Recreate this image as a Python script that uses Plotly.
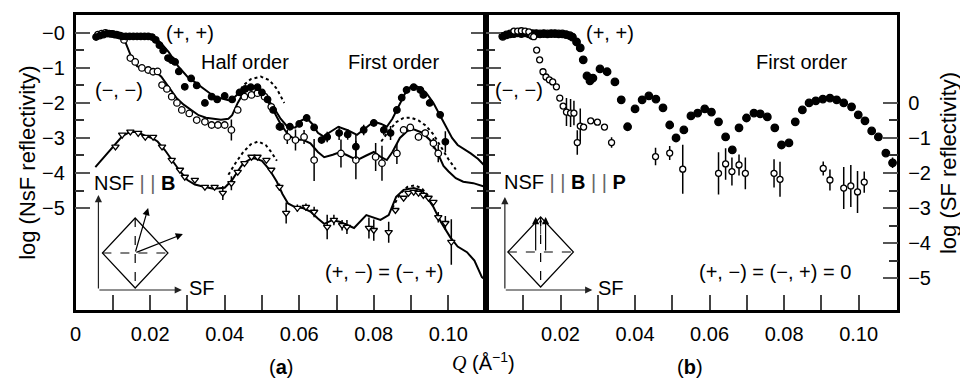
import plotly.graph_objects as go

W, H = 960, 378
FONT = "Liberation Sans, Arial, sans-serif"

# ---------------- data : panel (a) ----------------
pp_q = [0.0055, 0.0065, 0.0075, 0.0085, 0.0095, 0.0105, 0.0115, 0.0125, 0.0135, 0.0145, 0.0155, 0.0165,
        0.0175, 0.0185, 0.0195, 0.0205, 0.0215, 0.0225, 0.0235, 0.0248, 0.0258, 0.0267, 0.0277, 0.0293,
        0.031, 0.0325, 0.0347, 0.0365, 0.038, 0.040, 0.042, 0.044, 0.0455, 0.047, 0.0488, 0.050, 0.0515,
        0.053, 0.055, 0.0575, 0.060, 0.062, 0.064, 0.066, 0.0675, 0.0707, 0.073, 0.0752, 0.0773, 0.080,
        0.0827, 0.0845, 0.0862, 0.0875, 0.0888, 0.0907, 0.0925, 0.0933, 0.095, 0.0978, 0.0992]
pp_r = [-0.12, -0.08, -0.05, -0.02, -0.03, -0.05, -0.07, -0.1, -0.1, -0.1, -0.1, -0.1,
        -0.1, -0.1, -0.1, -0.12, -0.2, -0.35, -0.5, -0.72, -0.78, -0.83, -1.1, -1.54,
        -1.3, -1.5, -2.0, -1.82, -1.9, -1.8, -1.9, -1.7, -1.6, -1.55, -1.55, -1.7, -1.9,
        -2.2, -2.68, -2.68, -2.6, -2.43, -2.7, -3.06, -2.97, -2.86, -2.9, -3.25, -2.77, -2.57,
        -2.77, -2.86, -2.2, -1.85, -1.63, -1.55, -1.63, -1.77, -2.0, -2.34, -3.11]
pp_e = [0] * 44 + [0.15, 0.2, 0.15, 0.35, 0.15, 0.1, 0.15, 0.2, 0.1, 0, 0, 0, 0, 0, 0, 0.1, 0.3]

mm_q = [0.006, 0.007, 0.008, 0.009, 0.010, 0.011, 0.012, 0.013, 0.0147, 0.016, 0.0178, 0.0195, 0.0208,
        0.022, 0.0232, 0.0245, 0.0258, 0.0272, 0.0285, 0.0305, 0.0325, 0.0347, 0.0365, 0.0382, 0.040,
        0.0418, 0.0435, 0.0453, 0.0472, 0.0488, 0.0507, 0.0525, 0.0547, 0.0568, 0.059, 0.0613, 0.064,
        0.0712, 0.0752, 0.0805, 0.0822, 0.0862, 0.088, 0.0898, 0.092, 0.0938, 0.096, 0.0973]
mm_r = [-0.05, -0.02, 0.0, -0.02, -0.03, -0.05, -0.08, -0.2, -0.72, -0.83, -1.0, -1.06, -1.11,
        -1.1, -1.49, -1.6, -1.82, -2.0, -2.2, -2.3, -2.49, -2.54, -2.63, -2.63, -2.63,
        -2.77, -2.2, -1.82, -1.77, -1.72, -1.82, -2.11, -2.68, -2.97, -3.06, -2.97, -3.63,
        -3.44, -3.63, -3.54, -3.72, -3.44, -2.77, -2.7, -2.97, -2.86, -3.15, -3.44]
mm_e = [0] * 25 + [0.3, 0, 0, 0, 0, 0, 0, 0.1, 0.2, 0.3, 0.2, 0.6,
                   0.4, 0.55, 0.4, 0.5, 0.3, 0, 0, 0.1, 0.1, 0.15, 0.25]

tri_q = [0.0107, 0.0125, 0.0147, 0.0168, 0.0187, 0.0208, 0.0232, 0.0258, 0.028, 0.0293, 0.032,
         0.0347, 0.0373, 0.0395, 0.0418, 0.0435, 0.0453, 0.0472, 0.0488, 0.0512, 0.0525, 0.0547,
         0.0565, 0.0595, 0.0618, 0.064, 0.0675, 0.0693, 0.0715, 0.0728, 0.0787, 0.080, 0.084,
         0.0858, 0.088, 0.0893, 0.0907, 0.092, 0.0933, 0.0947, 0.096, 0.0973, 0.0992, 0.1008]
tri_r = [-3.25, -2.91, -2.82, -2.86, -2.97, -2.97, -3.25, -3.63, -3.91, -4.11, -4.2,
         -4.4, -4.4, -4.57, -4.29, -3.97, -3.72, -3.54, -3.54, -3.63, -3.91, -4.4,
         -5.14, -5.0, -4.97, -5.11, -5.54, -5.34, -5.49, -5.54, -5.57, -5.63, -5.69,
         -5.06, -4.71, -4.57, -4.54, -4.57, -4.63, -4.71, -4.83, -5.26, -5.43, -5.97]
tri_e = [0] * 13 + [0.2, 0.2, 0, 0, 0, 0, 0, 0, 0.1,
                    0.3, 0.1, 0.1, 0.15, 0.35, 0.15, 0.15, 0.2, 0.3, 0.3, 0.3,
                    0, 0, 0, 0, 0, 0, 0, 0, 0.15, 0.2, 0.65]

fitpp_q = [0.005, 0.007, 0.009, 0.012, 0.015, 0.018, 0.020, 0.0215, 0.023, 0.025, 0.0275, 0.030, 0.0325,
           0.035, 0.037, 0.039, 0.041, 0.042, 0.0435, 0.045, 0.0465, 0.048, 0.0495, 0.051, 0.053, 0.055,
           0.057, 0.059, 0.0605, 0.062, 0.0635, 0.065, 0.0667, 0.068, 0.0705, 0.073, 0.0755, 0.078, 0.080,
           0.082, 0.0835, 0.085, 0.087, 0.089, 0.0907, 0.092, 0.094, 0.096, 0.098, 0.0995, 0.101, 0.1025,
           0.104, 0.106, 0.108, 0.110]
fitpp_r = [-0.1, -0.02, 0.0, -0.05, -0.08, -0.08, -0.1, -0.15, -0.3, -0.55, -0.95, -1.25, -1.45,
           -1.65, -1.8, -1.87, -1.92, -1.9, -1.75, -1.6, -1.52, -1.52, -1.6, -1.8, -2.1, -2.45,
           -2.7, -2.7, -2.5, -2.43, -2.6, -2.85, -2.97, -2.85, -2.68, -2.78, -2.91, -2.7, -2.53,
           -2.6, -2.68, -2.45, -2.0, -1.6, -1.49, -1.55, -1.7, -2.0, -2.4, -2.7, -3.0, -3.2,
           -3.3, -3.44, -3.6, -3.82]

fitmm_q = [0.005, 0.007, 0.009, 0.011, 0.0125, 0.0135, 0.015, 0.0165, 0.018, 0.020, 0.0215, 0.023, 0.025,
           0.027, 0.029, 0.031, 0.033, 0.035, 0.037, 0.039, 0.041, 0.042, 0.0435, 0.045, 0.0465, 0.048,
           0.0495, 0.051, 0.053, 0.055, 0.057, 0.059, 0.061, 0.063, 0.065, 0.0667, 0.069, 0.071, 0.073,
           0.0755, 0.078, 0.080, 0.082, 0.0835, 0.085, 0.087, 0.089, 0.0907, 0.093, 0.095, 0.097, 0.0987,
           0.100, 0.102, 0.104, 0.1067, 0.110]
fitmm_r = [-0.1, -0.02, 0.0, -0.03, -0.1, -0.3, -0.7, -0.95, -1.02, -1.05, -1.1, -1.25, -1.55,
           -1.85, -2.05, -2.2, -2.35, -2.42, -2.45, -2.48, -2.45, -2.35, -2.0, -1.72, -1.58, -1.55,
           -1.65, -1.85, -2.2, -2.6, -2.9, -3.05, -3.05, -3.15, -3.4, -3.55, -3.48, -3.4, -3.5,
           -3.63, -3.5, -3.4, -3.55, -3.63, -3.4, -3.0, -2.8, -2.75, -2.85, -3.05, -3.4, -3.8,
           -3.95, -4.15, -4.25, -4.29, -4.4]

fittri_q = [0.0053, 0.008, 0.0107, 0.0125, 0.0145, 0.0165, 0.0185, 0.0205, 0.022, 0.024, 0.026, 0.028,
            0.030, 0.032, 0.0347, 0.037, 0.040, 0.042, 0.0435, 0.045, 0.047, 0.048, 0.050, 0.052, 0.054,
            0.0555, 0.057, 0.059, 0.061, 0.063, 0.065, 0.0667, 0.069, 0.071, 0.0747, 0.078, 0.0818, 0.084,
            0.086, 0.088, 0.0907, 0.093, 0.096, 0.098, 0.1005, 0.1025, 0.105, 0.107, 0.109, 0.110]
fittri_r = [-3.83, -3.5, -3.2, -2.95, -2.83, -2.83, -2.93, -3.0, -3.1, -3.35, -3.65, -3.95,
            -4.2, -4.33, -4.4, -4.45, -4.42, -4.2, -3.95, -3.72, -3.6, -3.58, -3.65, -3.9, -4.25,
            -4.6, -4.87, -4.98, -5.0, -5.1, -5.3, -5.45, -5.34, -5.4, -5.57, -5.2, -5.34, -5.2,
            -4.68, -4.48, -4.43, -4.5, -4.97, -5.4, -5.83, -6.1, -6.26, -6.5, -6.97, -7.05]

dot1_q = [0.0435, 0.045, 0.047, 0.0497, 0.052, 0.054, 0.056]
dot1_r = [-1.75, -1.5, -1.32, -1.25, -1.35, -1.6, -2.0]
dot2_q = [0.082, 0.084, 0.086, 0.088, 0.090, 0.092, 0.094, 0.096, 0.098, 0.100, 0.102]
dot2_r = [-3.1, -2.8, -2.55, -2.43, -2.42, -2.5, -2.65, -2.9, -3.25, -3.6, -3.9]
dot3_q = [0.041, 0.043, 0.045, 0.047, 0.049, 0.051, 0.0525, 0.054]
dot3_r = [-4.05, -3.7, -3.4, -3.18, -3.1, -3.2, -3.4, -3.65]
dot4_q = [0.085, 0.087, 0.089, 0.091, 0.093, 0.095]
dot4_r = [-5.0, -4.6, -4.4, -4.35, -4.45, -4.7]

# ---------------- data : panel (b) (values on the left, NSF scale) ----------------
bpp_q = [0.0045, 0.0055, 0.0065, 0.0075, 0.0085, 0.0095, 0.0105, 0.0115, 0.0125, 0.0135, 0.0145, 0.0155,
         0.0165, 0.0175, 0.0185, 0.0195, 0.0205, 0.0215, 0.0225, 0.0232, 0.0243, 0.0253, 0.0261, 0.0271,
         0.0279, 0.0287, 0.0306, 0.0325, 0.0346, 0.0363, 0.038, 0.040, 0.0419, 0.0437, 0.0456, 0.0475,
         0.0493, 0.051, 0.0531, 0.055, 0.0568, 0.0587, 0.0605, 0.0624, 0.0643, 0.0661, 0.0679, 0.0699,
         0.0719, 0.0736, 0.0755, 0.0775, 0.0793, 0.0813, 0.083, 0.0849, 0.0867, 0.0885, 0.0904, 0.0923,
         0.0941, 0.096, 0.0981, 0.0999, 0.1017, 0.1035, 0.1053, 0.1073, 0.1091]
bpp_r = [-0.1, -0.06, -0.03, -0.02, 0.0, -0.02, 0.0, -0.03, -0.02, -0.02, -0.03, -0.02,
         -0.03, -0.02, -0.02, -0.03, -0.03, -0.05, -0.08, -0.12, -0.26, -0.43, -0.77, -1.23,
         -1.37, -1.29, -1.03, -1.11, -1.4, -1.91, -2.68, -2.17, -1.91, -1.8, -1.89, -2.14,
         -2.63, -3.0, -2.77, -2.37, -2.29, -2.17, -2.26, -2.54, -2.97, -3.34, -2.71, -2.43,
         -2.29, -2.31, -2.4, -2.71, -3.2, -3.14, -2.54, -2.2, -2.0, -1.94, -1.89, -1.86,
         -1.91, -2.0, -2.11, -2.34, -2.51, -2.8, -2.97, -3.43, -3.71]
bpp_e = [0] * 68 + [0.15]

bmm_q = [0.0075, 0.0085, 0.0095, 0.0105, 0.0115, 0.0123, 0.0128, 0.0136, 0.0144, 0.0153, 0.0161, 0.017,
         0.0179, 0.0189, 0.0198, 0.0207, 0.0216, 0.0227, 0.0236, 0.0245, 0.0253, 0.0262, 0.0281, 0.0299,
         0.0318, 0.0337, 0.0455, 0.0493, 0.0528, 0.0624, 0.0643, 0.066, 0.0679, 0.0696, 0.0773, 0.0789,
         0.0905, 0.0923, 0.096, 0.0979, 0.0997, 0.1015]
bmm_r = [0.05, 0.05, 0.06, 0.05, 0.03, -0.09, -0.11, -0.49, -0.77, -1.11, -1.26, -1.34,
         -1.4, -1.54, -1.86, -2.09, -2.26, -2.29, -2.29, -3.13, -2.66, -2.69, -2.51, -2.55,
         -2.69, -3.13, -3.53, -3.43, -3.89, -4.01, -3.74, -3.96, -3.77, -4.01, -4.01, -4.18,
         -3.87, -4.2, -4.43, -4.37, -4.54, -4.26]
bmm_e = [0] * 16 + [0.4, 0.4, 0.35, 0.35, 0.5, 0, 0, 0, 0, 0.15, 0.25, 0.2, 0.7, 0.6,
                    0.45, 0.4, 0.3, 0.45, 0.4, 0.5, 0.2, 0.3, 0.6, 0.6, 0.6, 0.3]

# right-hand (SF) scale is the left-hand scale shifted by this many decades
SF_OFFSET = 2.0

# ---------------- axes ticks ----------------
nsf_tickvals = [-5, -4, -3, -2, -1, 0]
nsf_ticktext = ["\u22125", "\u22124", "\u22123", "\u22122", "\u22121", "\u22120"]
half_ticks = [-4.5, -3.5, -2.5, -1.5, -0.5]
sf_ticktext = ["\u22125", "\u22124", "\u22123", "\u22122", "\u22121", "0"]
qa_tickvals = [0, 0.01, 0.02, 0.03, 0.04, 0.05, 0.06, 0.07, 0.08, 0.09, 0.10]
qa_ticktext = ["0", "", "0.02", "", "0.04", "", "0.06", "", "0.08", "", "0.10"]
qb_tickvals = qa_tickvals[1:]
qb_ticktext = qa_ticktext[1:]

# ---------------- geometry (pixels) ----------------
LA0, LA1, RB1 = 70, 483, 897
TOP, BOT = 15, 310
YMIN, YMAX = -7.91, 0.51


def px(x):
    return x / W


def py(y):
    return 1 - y / H


fig = go.Figure()


def line(q, r, xa, ya, dash="solid", width=2):
    fig.add_trace(go.Scatter(x=q, y=r, xaxis=xa, yaxis=ya, mode="lines", hoverinfo="skip",
                             line=dict(color="black", width=width, dash=dash)))


def pts(q, r, e, xa, ya, symbol, size, fill):
    fig.add_trace(go.Scatter(
        x=q, y=r, xaxis=xa, yaxis=ya, mode="markers",
        marker=dict(symbol=symbol, size=size, color=fill, line=dict(color="black", width=1.3)),
        error_y=dict(type="data", array=e, visible=True, thickness=1.5, width=0, color="black")))


# panel (a)
line(fitpp_q, fitpp_r, "x", "y")
line(fitmm_q, fitmm_r, "x", "y")
line(fittri_q, fittri_r, "x", "y")
for dq, dr in [(dot1_q, dot1_r), (dot2_q, dot2_r), (dot3_q, dot3_r), (dot4_q, dot4_r)]:
    line(dq, dr, "x", "y", dash="dot", width=2)
pts(tri_q, tri_r, tri_e, "x", "y", "triangle-down", 6.5, "white")
pts(mm_q, mm_r, mm_e, "x", "y", "circle", 6.5, "white")
pts(pp_q, pp_r, pp_e, "x", "y", "circle", 6.5, "black")

# panel (b): open circles read on the right-hand (SF) axis, filled on the left-hand one
pts(bmm_q, [v + SF_OFFSET for v in bmm_r], bmm_e, "x2", "y3", "circle", 6, "white")
pts(bpp_q, bpp_r, bpp_e, "x2", "y2", "circle", 7.5, "black")

tickfont = dict(family=FONT, size=20, color="black")
common_y = dict(showgrid=False, zeroline=False, showline=True, linecolor="black", linewidth=2.5,
                ticks="inside", ticklen=15, tickwidth=1.5, tickcolor="#555",
                minor=dict(tickvals=half_ticks, ticks="inside", ticklen=9, tickwidth=1.5, tickcolor="#333"),
                tickfont=tickfont, ticklabelstandoff=4)
common_x = dict(showgrid=False, zeroline=False, showline=True, linecolor="black", linewidth=2.5,
                mirror=True, ticks="inside", ticklen=15, tickwidth=1.5, tickcolor="#444",
                tickfont=tickfont, ticklabelstandoff=4)

fig.update_layout(
    width=W, height=H, margin=dict(l=0, r=0, t=0, b=0), autosize=False,
    paper_bgcolor="white", plot_bgcolor="white", showlegend=False,
    font=dict(family=FONT, size=20, color="black"),
    xaxis=dict(common_x, domain=[px(LA0), px(LA1)], range=[0, 0.1101], anchor="y",
               tickvals=qa_tickvals, ticktext=qa_ticktext),
    yaxis=dict(common_y, domain=[py(BOT), py(TOP)], range=[YMIN, YMAX], anchor="x",
               tickvals=nsf_tickvals, ticktext=nsf_ticktext, mirror="ticks"),
    xaxis2=dict(common_x, domain=[px(LA1), px(RB1)], range=[0, 0.1104], anchor="y2",
                tickvals=qb_tickvals, ticktext=qb_ticktext),
    yaxis2=dict(common_y, domain=[py(BOT), py(TOP)], range=[YMIN, YMAX], anchor="x2",
                tickvals=nsf_tickvals, showticklabels=False, mirror=False),
    yaxis3=dict(common_y, overlaying="y2", side="right", anchor="x2",
                range=[YMIN + SF_OFFSET, YMAX + SF_OFFSET],
                tickvals=nsf_tickvals, ticktext=sf_ticktext),
)

ann = []


def text(t, x, y, size=20, xanchor="center", angle=0):
    ann.append(dict(text=t, x=px(x), y=py(y), xref="paper", yref="paper", showarrow=False,
                    xanchor=xanchor, yanchor="middle", textangle=angle,
                    font=dict(family=FONT, size=size, color="black")))


def arrow(x0, y0, x1, y1, color="#222", width=1.2, head=2, hsize=1.2):
    ann.append(dict(x=px(x1), y=py(y1), xref="paper", yref="paper", ax=x0 - x1, ay=y0 - y1,
                    axref="pixel", ayref="pixel", showarrow=True, arrowhead=head,
                    arrowsize=hsize, arrowwidth=width, arrowcolor=color, text=""))


bars = "<span style='color:#666'>| |</span>"
text("(+, +)", 185, 33)
text("Half order", 240, 62)
text("First order", 390, 62)
text("(\u2212, \u2212)", 88, 90, xanchor="left")
text("NSF " + bars + " <b>B</b>", 87, 183, xanchor="left")
text("SF", 182, 288, xanchor="left")
text("(+, \u2212) = (\u2212, +)", 380, 272)
text("(+, +)", 608, 33)
text("(\u2212, \u2212)", 490, 90, xanchor="left")
text("First order", 800, 62)
text("NSF " + bars + " <b>B</b> " + bars + " <b>P</b>", 499, 182, xanchor="left")
text("SF", 594, 288, xanchor="left")
text("(+, \u2212) = (\u2212, +) = 0", 774, 272)
text("(<b>a</b>)", 277, 367)
text("(<b>b</b>)", 688, 367)
text("<span style='font-family:Liberation Serif'><i>Q</i></span> (\u00c5<sup>\u22121</sup>)", 481, 361)
text("log (NsF reflectivity)", 22, 163, size=22, angle=-90)
text("log (SF reflectivity)", 949, 163, size=22, angle=-90)

# inset (a): axes arrows, diamond and moment arrows
arrow(93, 290, 93, 195)
arrow(93, 290, 177, 290)
arrow(130, 253, 143, 208, color="black")
arrow(130, 253, 178, 234, color="black")
# inset (b)
arrow(502, 290, 502, 197)
arrow(502, 290, 590, 290)
arrow(533, 252, 533, 217, color="black")
arrow(543, 252, 543, 217, color="black")
arrow(538, 236, 538, 219, color="black", width=0.8, head=3, hsize=1)

fig.update_layout(annotations=ann)

shapes = []
for cx, cy, hw, hh in [(130, 253, 33, 35), (538, 252, 33, 35)]:
    path = "M {} {} L {} {} L {} {} L {} {} Z".format(
        px(cx), py(cy - hh), px(cx + hw), py(cy), px(cx), py(cy + hh), px(cx - hw), py(cy))
    shapes.append(dict(type="path", path=path, xref="paper", yref="paper",
                       line=dict(color="black", width=1.2)))
    shapes.append(dict(type="line", xref="paper", yref="paper", x0=px(cx - hw), x1=px(cx + hw),
                       y0=py(cy), y1=py(cy), line=dict(color="black", width=1.2, dash="dash")))
    shapes.append(dict(type="line", xref="paper", yref="paper", x0=px(cx), x1=px(cx),
                       y0=py(cy - hh), y1=py(cy + hh), line=dict(color="black", width=1.2, dash="dash")))
fig.update_layout(shapes=shapes)

fig.write_html("out.html")
